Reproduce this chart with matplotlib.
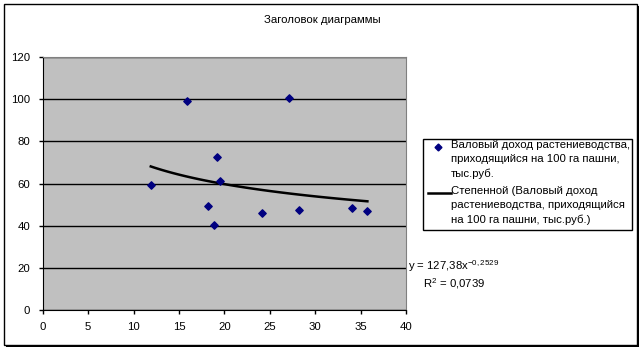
import numpy as np
import matplotlib.pyplot as plt
from matplotlib.patches import Rectangle
from matplotlib.lines import Line2D

plt.rcParams['font.family'] = ['Liberation Sans', 'DejaVu Sans']
plt.rcParams['mathtext.fontset'] = 'custom'
plt.rcParams['mathtext.rm'] = 'Liberation Sans'
plt.rcParams['mathtext.it'] = 'Liberation Sans'

# Данные
x_vals = [11.9, 15.85, 27.15, 19.15, 19.55, 18.15, 18.9, 24.15, 28.25, 34.0, 35.75]
y_vals = [59.4, 99.1, 100.6, 72.7, 61.2, 49.5, 40.3, 46.2, 47.4, 48.2, 47.0]
coef_a = 127.38
coef_b = -0.2529
r2 = 0.0739

title = 'Заголовок диаграммы'
series_label = 'Валовый доход растениеводства,\nприходящийся на 100 га пашни,\nтыс.руб.'
trend_label = 'Степенной (Валовый доход\nрастениеводства, приходящийся\nна 100 га пашни, тыс.руб.)'

fs = 8.2
W, H = 643, 351
fig = plt.figure(figsize=(W / 100, H / 100), dpi=100)

# рамка диаграммы с тенью
fig.patches.append(Rectangle((6 / W, 1 - 347 / H), 633 / W, 341 / H, transform=fig.transFigure,
                             facecolor='black', edgecolor='none', zorder=0))
fig.patches.append(Rectangle((4 / W, 1 - 345 / H), 633 / W, 341 / H, transform=fig.transFigure,
                             facecolor='white', edgecolor='black', lw=1, zorder=0.1))

ax = fig.add_axes([42.7 / W, 1 - 310 / H, (406 - 42.7) / W, (310 - 57) / H])
ax.set_zorder(2)
ax.set_facecolor('#C0C0C0')
ax.set_xlim(0, 40)
ax.set_ylim(0, 120)
ax.set_xticks(range(0, 41, 5))
ax.set_yticks(range(0, 121, 20))
ax.grid(axis='y', color='black', lw=1)
ax.set_axisbelow(True)
for s in ['top', 'right']:
    ax.spines[s].set_color('#808080')
ax.spines['left'].set_color('black')
ax.spines['bottom'].set_color('black')
ax.tick_params(direction='out', length=3, width=1, labelsize=fs, pad=6)

ax.scatter(x_vals, y_vals, marker='D', s=14, color='#000080', zorder=3)
xs = np.linspace(min(x_vals), max(x_vals), 100)
ax.plot(xs, coef_a * xs ** coef_b, color='black', lw=1.8, zorder=2)

fig.text(322 / W, 1 - 20 / H, title, ha='center', va='center', fontsize=fs)

# легенда
fig.patches.append(Rectangle((423 / W, 1 - 230 / H), (632 - 423) / W, (230 - 139) / H,
                             transform=fig.transFigure, facecolor='white', edgecolor='black', lw=1,
                             zorder=1))
fig.add_artist(Line2D([438 / W], [1 - 147 / H], marker='D', ms=3.5, color='#000080', lw=0, zorder=3))
fig.text(451 / W, 1 - 140 / H, series_label, ha='left', va='top', fontsize=fs, linespacing=1.5, zorder=3)
fig.add_artist(Line2D([428 / W, 451 / W], [1 - 193 / H, 1 - 193 / H], color='black', lw=1.8, zorder=3))
fig.text(451 / W, 1 - 186 / H, trend_label, ha='left', va='top', fontsize=fs, linespacing=1.5, zorder=3)

eq = 'y = %sx$^{%s}$' % (str(coef_a).replace('.', ','), str(coef_b).replace('.', ','))
fig.text(408 / W, 1 - 266 / H, eq, ha='left', va='center', fontsize=fs, zorder=3)
fig.text(423 / W, 1 - 284 / H, 'R$^2$ = %s' % str(r2).replace('.', ','), ha='left', va='center',
         fontsize=fs, zorder=3)

fig.savefig('out.png', dpi=100)
